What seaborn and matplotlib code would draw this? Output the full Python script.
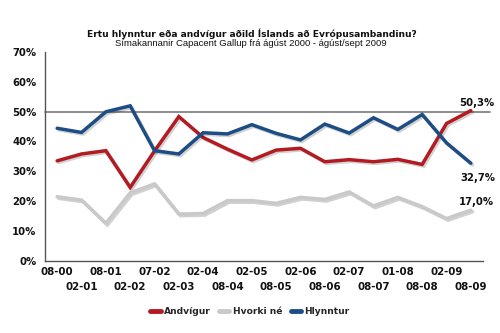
import matplotlib
matplotlib.use("Agg")
import matplotlib.pyplot as plt
import matplotlib.patheffects as pe
from matplotlib.lines import Line2D
import seaborn as sns
import pandas as pd
import numpy as np

periods = ["08-00", "02-01", "08-01", "02-02", "07-02", "02-03", "02-04", "08-04", "02-05",
           "08-05", "02-06", "08-06", "02-07", "08-07", "01-08", "08-08", "02-09", "08-09"]
andvigur = [33.5, 35.8, 36.9, 24.6, 36.8, 48.3, 41.3, 37.4, 33.8, 37.1, 37.7, 33.2, 33.9,
            33.2, 34.0, 32.3, 46.0, 50.3]
hvorki = [21.5, 20.4, 12.6, 22.8, 25.8, 15.7, 15.9, 20.2, 20.2, 19.3, 21.3, 20.6, 23.1,
          18.4, 21.3, 18.2, 14.2, 17.0]
hlynntur = [44.4, 43.0, 49.9, 51.9, 36.9, 35.8, 42.9, 42.5, 45.6, 42.7, 40.5, 45.8, 42.8,
            47.9, 44.0, 49.0, 39.5, 32.7]
series_names = ["Andvígur", "Hvorki né", "Hlynntur"]
end_labels = ["50,3%", "17,0%", "32,7%"]
yticks = [0, 10, 20, 30, 40, 50, 60, 70]

colors = {"Andvígur": "#b31b22", "Hvorki né": "#c9c9c9", "Hlynntur": "#1d4d85"}

rows = []
for name, vals in zip(series_names, [andvigur, hvorki, hlynntur]):
    for i, v in enumerate(vals):
        rows.append({"idx": i, "period": periods[i], "value": v, "series": name})
df = pd.DataFrame(rows)

sns.set_theme(style="white")
plt.rcParams["font.family"] = ["DejaVu Sans"]

fig = plt.figure(figsize=(5, 3.33), dpi=100)
ax = fig.add_axes([0.09, 0.2162, 0.876, 0.6285])

shadow = [pe.SimpleLineShadow(offset=(1.2, -1.2), shadow_color="black", alpha=0.18),
          pe.Normal()]

ax.axhline(50, xmin=0, xmax=1.016, color="#7a7a7a", lw=1.2, clip_on=False, zorder=1)

sns.lineplot(data=df, x="idx", y="value", hue="series", hue_order=series_names,
             palette=colors, linewidth=2.5, legend=False, ax=ax, zorder=3)
for ln in ax.get_lines()[1:]:
    ln.set_path_effects(shadow)
    ln.set_solid_joinstyle("miter")

ax.set_xlim(-0.5, len(periods) - 0.5)
ax.set_ylim(0, 70)
ax.set_yticks(yticks)
ax.set_yticklabels([f"{t}%" for t in yticks], fontsize=7.3, fontweight="bold", color="#111")

even_idx = list(range(0, len(periods), 2))
odd_idx = list(range(1, len(periods), 2))
ax.set_xticks(even_idx)
ax.set_xticklabels([periods[i] for i in even_idx], fontsize=7.4, fontweight="bold", color="#111")
ax.set_xticks(np.arange(-0.5, len(periods), 1.0), minor=True)
ax.tick_params(axis="x", which="major", length=0, pad=4)
ax.tick_params(axis="x", which="minor", length=5, width=0.9, color="#555", direction="inout")
ax.tick_params(axis="y", which="major", length=4, width=0.9, color="#555", pad=2)

sec = ax.secondary_xaxis("bottom")
sec.set_xticks(odd_idx)
sec.set_xticklabels([periods[i] for i in odd_idx], fontsize=7.4, fontweight="bold", color="#111")
sec.tick_params(axis="x", length=0, pad=15)
sec.spines["bottom"].set_visible(False)

ax.set_xlabel("")
ax.set_ylabel("")
for s in ["top", "right"]:
    ax.spines[s].set_visible(False)
for s in ["left", "bottom"]:
    ax.spines[s].set_color("#555")
    ax.spines[s].set_linewidth(1.0)

last = len(periods) - 1
ax.annotate(end_labels[0], (last, andvigur[-1]), xytext=(4, 2), textcoords="offset points",
            ha="center", va="bottom", fontsize=7.3, fontweight="bold", color="#111",
            annotation_clip=False)
ax.annotate(end_labels[2], (last, hlynntur[-1]), xytext=(5, -7), textcoords="offset points",
            ha="center", va="top", fontsize=7.3, fontweight="bold", color="#111",
            annotation_clip=False)
ax.annotate(end_labels[1], (last, hvorki[-1]), xytext=(4, 2.5), textcoords="offset points",
            ha="center", va="bottom", fontsize=7.3, fontweight="bold", color="#111",
            annotation_clip=False)

fig.text(0.504, 0.899, "Ertu hlynntur eða andvígur aðild Íslands að Evrópusambandinu?",
         ha="center", va="center", fontsize=6.6, fontweight="bold", color="#111")
fig.text(0.502, 0.869, "Símakannanir Capacent Gallup frá ágúst 2000 - ágúst/sept 2009",
         ha="center", va="center", fontsize=6.8, color="#111", family="Liberation Sans")

handles = [Line2D([0], [0], color=colors[n], lw=3.5, solid_capstyle="round") for n in series_names]
fig.legend(handles, series_names, loc="center", bbox_to_anchor=(0.5, 0.064), ncol=3,
           frameon=False, handlelength=1.1, handletextpad=0.4, columnspacing=0.9,
           prop={"size": 6.6, "weight": "bold"})

fig.savefig("out.png", dpi=100)
